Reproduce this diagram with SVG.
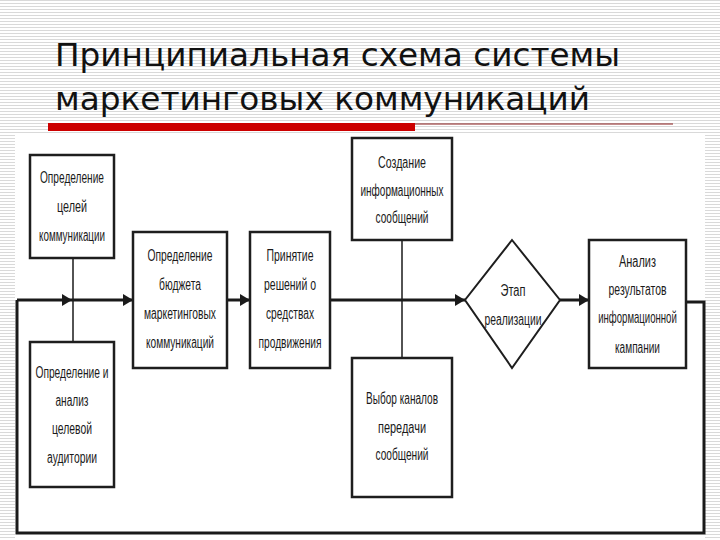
<svg xmlns="http://www.w3.org/2000/svg" width="720" height="540" viewBox="0 0 720 540">
  <defs>
    <pattern id="stripes" x="0" y="0" width="6" height="3" patternUnits="userSpaceOnUse">
      <rect x="0" y="0" width="6" height="3" fill="#ffffff"/>
      <rect x="0" y="0" width="6" height="1" fill="#d9d9d9"/>
    </pattern>
    <marker id="arrow" viewBox="0 0 10 12" refX="10" refY="6" markerWidth="10" markerHeight="13" markerUnits="userSpaceOnUse" orient="auto">
      <path d="M0,0 L10,6 L0,12 Z" fill="#1a1a1a"/>
    </marker>
  </defs>
  <style>
    .title { font-family: "DejaVu Sans", "Noto Sans", sans-serif; font-size: 32px; fill: #111; }
    .box { fill: #ffffff; stroke: #1e1e1e; stroke-width: 2.5; }
    .lbl { font-family: "Liberation Sans", Arial, sans-serif; font-size: 16px; fill: #1a1a1a; text-anchor: middle; dominant-baseline: central; }
    .main { fill: none; stroke: #1a1a1a; stroke-width: 3; }
    .thin { fill: none; stroke: #1a1a1a; stroke-width: 1.5; }
  </style>

  <!-- slide background -->
  <rect x="0" y="0" width="720" height="540" fill="url(#stripes)"/>
  <rect x="15" y="135" width="690" height="405" fill="#ffffff"/>

  <!-- title -->
  <g id="title">
    <text class="title" x="55" y="66" textLength="565" lengthAdjust="spacingAndGlyphs">Принципиальная схема системы</text>
    <text class="title" x="55" y="110" textLength="535" lengthAdjust="spacingAndGlyphs">маркетинговых коммуникаций</text>
    <rect x="48" y="123" width="367" height="8" fill="#cc0000"/>
    <line x1="415" y1="124" x2="673" y2="124" stroke="#8a1a1a" stroke-width="1.2"/>
  </g>

  <!-- connectors -->
  <g id="connectors">
    <line class="thin" x1="73" y1="258" x2="73" y2="342"/>
    <line class="thin" x1="402" y1="240" x2="402" y2="358"/>
    <line class="main" x1="17" y1="300" x2="72" y2="300" marker-end="url(#arrow)"/>
    <line class="main" x1="72" y1="300" x2="133" y2="300" marker-end="url(#arrow)"/>
    <line class="main" x1="227" y1="300" x2="250" y2="300" marker-end="url(#arrow)"/>
    <line class="main" x1="330" y1="300" x2="465" y2="300" marker-end="url(#arrow)"/>
    <line class="main" x1="560" y1="300" x2="589" y2="300" marker-end="url(#arrow)"/>
    <polyline class="main" points="686,302 704,302 704,533 17,533 17,300"/>
  </g>

  <g id="goals">
    <rect class="box" x="30" y="155" width="84" height="103"/>
    <text class="lbl" x="72" y="177" textLength="64" lengthAdjust="spacingAndGlyphs">Определение</text>
    <text class="lbl" x="72" y="206" textLength="30" lengthAdjust="spacingAndGlyphs">целей</text>
    <text class="lbl" x="72" y="235" textLength="66" lengthAdjust="spacingAndGlyphs">коммуникации</text>
  </g>

  <g id="audience">
    <rect class="box" x="30" y="342" width="84" height="145"/>
    <text class="lbl" x="72" y="372" textLength="73" lengthAdjust="spacingAndGlyphs">Определение и</text>
    <text class="lbl" x="72" y="400" textLength="33" lengthAdjust="spacingAndGlyphs">анализ</text>
    <text class="lbl" x="72" y="428" textLength="40" lengthAdjust="spacingAndGlyphs">целевой</text>
    <text class="lbl" x="72" y="457" textLength="50" lengthAdjust="spacingAndGlyphs">аудитории</text>
  </g>

  <g id="budget">
    <rect class="box" x="133" y="232" width="94" height="136"/>
    <text class="lbl" x="180" y="255" textLength="65" lengthAdjust="spacingAndGlyphs">Определение</text>
    <text class="lbl" x="180" y="284" textLength="42" lengthAdjust="spacingAndGlyphs">бюджета</text>
    <text class="lbl" x="180" y="313" textLength="72" lengthAdjust="spacingAndGlyphs">маркетинговых</text>
    <text class="lbl" x="180" y="342" textLength="68" lengthAdjust="spacingAndGlyphs">коммуникаций</text>
  </g>

  <g id="decisions">
    <rect class="box" x="250" y="232" width="80" height="136"/>
    <text class="lbl" x="290" y="255" textLength="47" lengthAdjust="spacingAndGlyphs">Принятие</text>
    <text class="lbl" x="290" y="284" textLength="52" lengthAdjust="spacingAndGlyphs">решений о</text>
    <text class="lbl" x="290" y="313" textLength="48" lengthAdjust="spacingAndGlyphs">средствах</text>
    <text class="lbl" x="290" y="342" textLength="63" lengthAdjust="spacingAndGlyphs">продвижения</text>
  </g>

  <g id="messages">
    <rect class="box" x="352" y="138" width="100" height="102"/>
    <text class="lbl" x="402" y="162" textLength="48" lengthAdjust="spacingAndGlyphs">Создание</text>
    <text class="lbl" x="402" y="190" textLength="83" lengthAdjust="spacingAndGlyphs">информационных</text>
    <text class="lbl" x="402" y="217" textLength="53" lengthAdjust="spacingAndGlyphs">сообщений</text>
  </g>

  <g id="channels">
    <rect class="box" x="352" y="358" width="100" height="139"/>
    <text class="lbl" x="402" y="398" textLength="72" lengthAdjust="spacingAndGlyphs">Выбор каналов</text>
    <text class="lbl" x="402" y="427" textLength="48" lengthAdjust="spacingAndGlyphs">передачи</text>
    <text class="lbl" x="402" y="454" textLength="53" lengthAdjust="spacingAndGlyphs">сообщений</text>
  </g>

  <g id="implementation">
    <polygon points="512,240 560,300 512,368 465,300" fill="#ffffff" stroke="#1e1e1e" stroke-width="2"/>
    <text class="lbl" x="513" y="290" textLength="25" lengthAdjust="spacingAndGlyphs">Этап</text>
    <text class="lbl" x="513" y="319" textLength="57" lengthAdjust="spacingAndGlyphs">реализации</text>
  </g>

  <g id="analysis">
    <rect class="box" x="589" y="240" width="97" height="128"/>
    <text class="lbl" x="637.5" y="261" textLength="37" lengthAdjust="spacingAndGlyphs">Анализ</text>
    <text class="lbl" x="637.5" y="289" textLength="58" lengthAdjust="spacingAndGlyphs">результатов</text>
    <text class="lbl" x="0" y="0" transform="translate(637.5,318) scale(0.6,1)">информационной</text>
    <text class="lbl" x="637.5" y="347" textLength="45" lengthAdjust="spacingAndGlyphs">кампании</text>
  </g>
</svg>
